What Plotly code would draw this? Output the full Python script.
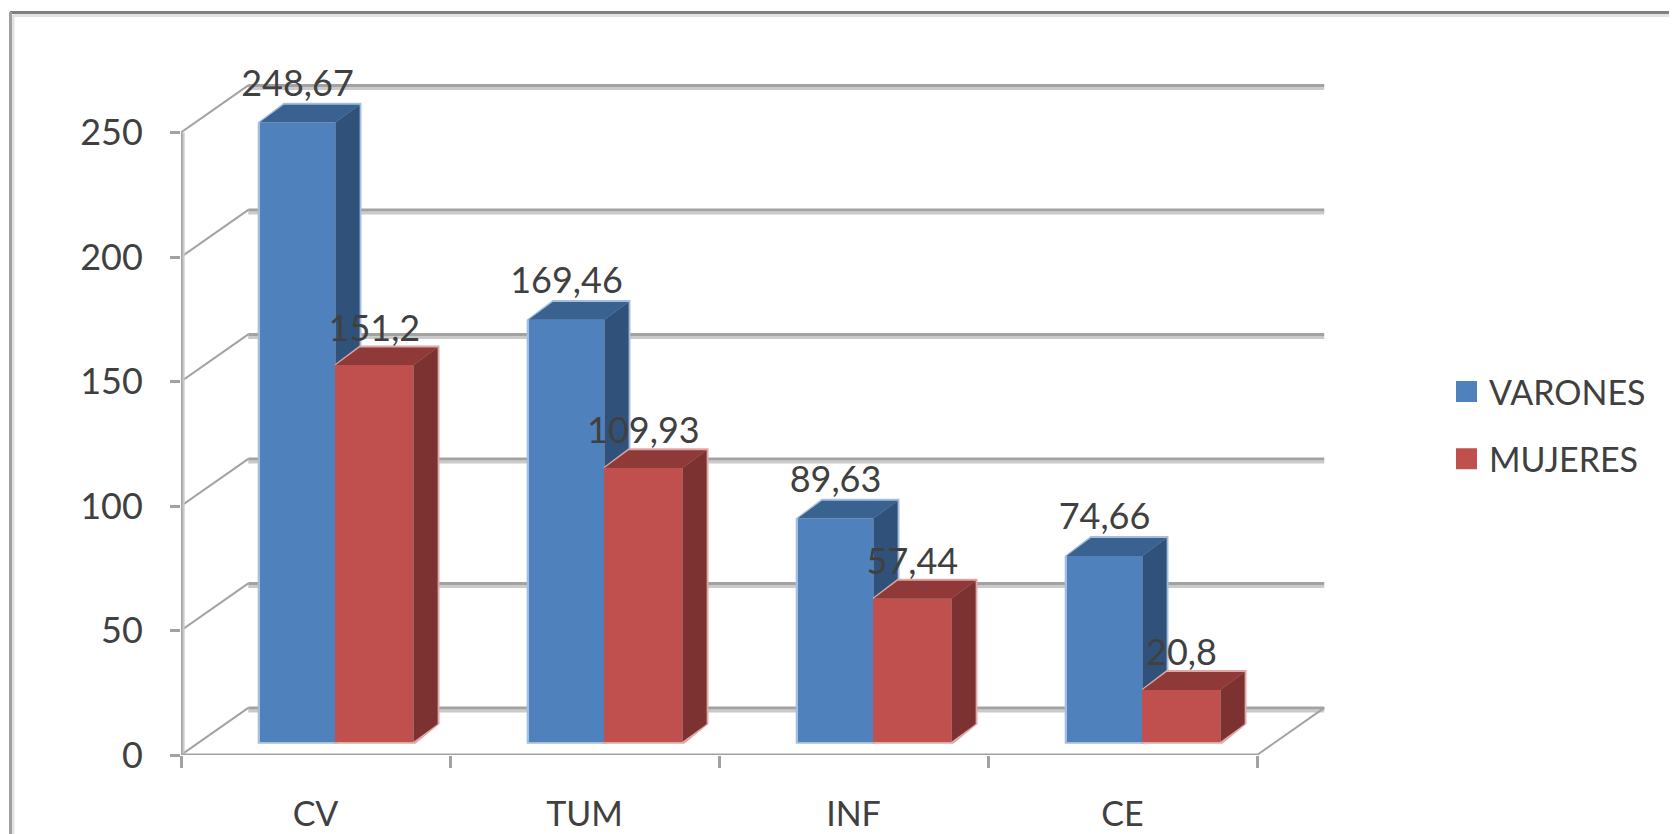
import plotly.graph_objects as go

categories = ["CV", "TUM", "INF", "CE"]
varones = [248.67, 169.46, 89.63, 74.66]
mujeres = [151.2, 109.93, 57.44, 20.8]
varones_labels = ["248,67", "169,46", "89,63", "74,66"]
mujeres_labels = ["151,2", "109,93", "57,44", "20,8"]
y_ticks = [0, 50, 100, 150, 200, 250]

W, H = 1677, 834
PAGE = 8                             # browser body margin around the figure
L, R, T, B = 181 - PAGE, 351 + PAGE, 60 - PAGE, 79 + PAGE
PX_Y = 2.49
PX_X = 269.0
XMAX = (W - L - R) / PX_X
YMAX = (H - T - B) / PX_Y

DEPTH_X, DEPTH_Y = 0.25, 18.9        # wall depth
BAR_DX, BAR_DY = 0.09, 7.2           # bar depth
FLOOR = 5.3                          # bar front base above axis
W_V, W_M = 0.282, 0.29
OFF_V, OFF_M = 0.433, 0.719
FONT = "Lato"
TXT = "#404040"
FS = 36
BLUE, BLUE_SIDE, BLUE_TOP, BLUE_EDGE = "#4F81BD", "#30527A", "#3A6290", "#A5BEDD"
RED, RED_SIDE, RED_TOP, RED_EDGE = "#C0504D", "#7B3230", "#8F3A38", "#DDA8A6"
GRID, GRID_SOFT = "#A2A2A2", "#CACACA"
SOFT_DY = 1.2


def seg(x0, y0, x1, y1, width=3, color=GRID):
    return dict(type="line", xref="x", yref="y", x0=x0, y0=y0, x1=x1, y1=y1,
                layer="below", line=dict(color=color, width=width))


def poly(points, color):
    p = "M" + " L".join(f"{a},{b}" for a, b in points) + " Z"
    return dict(type="path", xref="x", yref="y", path=p, layer="below",
                fillcolor=color, line=dict(width=0))


def box_faces(cx, w, v, side, top, edge):
    x0, x1 = cx - w / 2, cx + w / 2
    y0, y1 = FLOOR, FLOOR + v
    e, f = 0.007, 0.8
    return [
        poly([(x0 - e, y0 - f), (x1 + e, y0 - f), (x1 + BAR_DX + e, y0 + BAR_DY),
              (x1 + BAR_DX + e, y1 + BAR_DY + f), (x0 + BAR_DX, y1 + BAR_DY + f),
              (x0 - e, y1)], edge),
        poly([(x1, y0), (x1 + BAR_DX, y0 + BAR_DY), (x1 + BAR_DX, y1 + BAR_DY), (x1, y1)], side),
        poly([(x0, y1), (x0 + BAR_DX, y1 + BAR_DY), (x1 + BAR_DX, y1 + BAR_DY), (x1, y1)], top),
    ]


n = len(categories)
shapes = []
for t in y_ticks:
    shapes.append(seg(0, t, DEPTH_X, t + DEPTH_Y, width=2))
    back = t + DEPTH_Y
    shapes.append(seg(DEPTH_X, back - SOFT_DY, n + DEPTH_X, back - SOFT_DY, color=GRID_SOFT))
    shapes.append(seg(DEPTH_X, back, n + DEPTH_X, back))
shapes.append(seg(n, 0, n + DEPTH_X, DEPTH_Y, width=2))
shapes.append(seg(0.008, 0, 0.008, y_ticks[-1], color=GRID_SOFT))
shapes.append(seg(0, 0, 0, y_ticks[-1]))
shapes.append(seg(0, -SOFT_DY, n, -SOFT_DY, color=GRID_SOFT))
shapes.append(seg(0, 0, n, 0))
for i in range(n):
    shapes += box_faces(i + OFF_V, W_V, varones[i], BLUE_SIDE, BLUE_TOP, BLUE_EDGE)
    shapes += box_faces(i + OFF_M, W_M, mujeres[i], RED_SIDE, RED_TOP, RED_EDGE)

# outer frame of the picture (top and left edges), given in page pixels
fx = lambda px: (px - PAGE - L) / (W - L - R)
fy = lambda py: 1 - (py - PAGE - T) / (H - T - B)
for a, b, c, d, col in [(13, 15.5, W, 15.5, "#E2E2E2"), (13, 15, 13, H, "#E2E2E2"),
                        (10, 12.5, W, 12.5, "#808080"), (10.5, 12, 10.5, H, "#A0A0A0")]:
    shapes.append(dict(type="line", xref="paper", yref="paper", x0=fx(a), y0=fy(b),
                       x1=fx(c), y1=fy(d), layer="below",
                       line=dict(color=col, width=3)))

fig = go.Figure()
xs = list(range(n))
fig.add_bar(x=[i + OFF_V for i in xs], y=varones, base=FLOOR, width=W_V, name="VARONES",
            marker=dict(color=BLUE, line=dict(width=0)), showlegend=False)
fig.add_bar(x=[i + OFF_M for i in xs], y=mujeres, base=FLOOR, width=W_M, name="MUJERES",
            marker=dict(color=RED, line=dict(width=0)), showlegend=False)

fig.add_scatter(x=[i + OFF_V for i in xs], y=[FLOOR + v + 14.5 for v in varones],
                text=varones_labels, mode="text", textposition="middle center",
                textfont=dict(family=FONT, size=FS, color=TXT), showlegend=False, hoverinfo="skip")
fig.add_scatter(x=[i + OFF_M for i in xs], y=[FLOOR + v + 13.5 for v in mujeres],
                text=mujeres_labels, mode="text", textposition="middle center",
                textfont=dict(family=FONT, size=FS, color=TXT), showlegend=False, hoverinfo="skip")

for name, col, grp in [("VARONES", BLUE, "a"), ("MUJERES", RED, "b")]:
    fig.add_scatter(x=[None], y=[None], mode="markers", name=name, legendgroup=grp,
                    marker=dict(symbol="square", size=16, color=col, line=dict(color=col, width=5)))

fig.update_layout(
    width=W, height=H, autosize=False,
    margin=dict(l=L, r=R, t=T, b=B, pad=0, autoexpand=False),
    paper_bgcolor="white", plot_bgcolor="white",
    barmode="overlay", shapes=shapes, bargap=0,
    font=dict(family=FONT, size=FS, color=TXT),
    legend=dict(x=fx(1444), y=fy(363), xanchor="left", yanchor="top",
                font=dict(family=FONT, size=34, color=TXT), itemwidth=35,
                tracegroupgap=20, bgcolor="rgba(0,0,0,0)", itemclick=False),
    xaxis=dict(range=[0, XMAX], tickmode="array", tickvals=[i + 0.5 for i in xs],
               ticktext=categories, ticks="", showgrid=False, zeroline=False, showline=False,
               automargin=False, ticklabelstandoff=36,
               tickfont=dict(family=FONT, size=34, color=TXT),
               minor=dict(tickmode="array", tickvals=list(range(n + 1)), ticks="outside",
                          ticklen=12, tickwidth=3, tickcolor=GRID, showgrid=False)),
    yaxis=dict(range=[0, YMAX], tickmode="array", tickvals=y_ticks, ticks="outside",
               ticklen=10, tickwidth=3, tickcolor=GRID, showgrid=False, zeroline=False,
               showline=False, automargin=False, ticklabelstandoff=20,
               tickfont=dict(family=FONT, size=FS, color=TXT)),
)
fig.write_html("out.html")
